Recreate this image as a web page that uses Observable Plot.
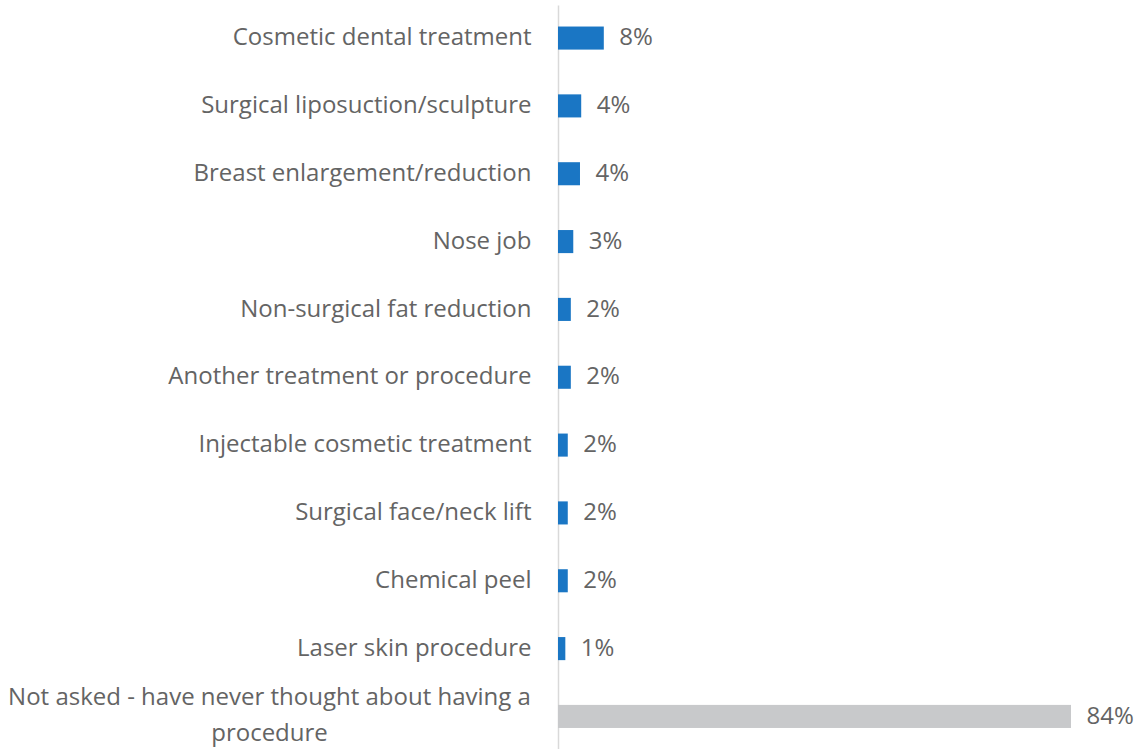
<!DOCTYPE html>
<html>
<head>
<meta charset="utf-8">
<script src="https://cdn.jsdelivr.net/npm/d3@7"></script>
<script src="https://cdn.jsdelivr.net/npm/@observablehq/plot@0.6"></script>
<style>
  html, body { margin: 0; padding: 0; background: #fff; }
</style>
</head>
<body>
<div id="chart"></div>
<script>
const categories = [
  "Cosmetic dental treatment",
  "Surgical liposuction/sculpture",
  "Breast enlargement/reduction",
  "Nose job",
  "Non-surgical fat reduction",
  "Another treatment or procedure",
  "Injectable cosmetic treatment",
  "Surgical face/neck lift",
  "Chemical peel",
  "Laser skin procedure",
  "Not asked - have never thought about having a procedure"
];
const values = [7.5, 3.8, 3.6, 2.5, 2.1, 2.1, 1.6, 1.6, 1.6, 1.2, 84];
const valueLabels = ["8%", "4%", "4%", "3%", "2%", "2%", "2%", "2%", "2%", "1%", "84%"];
const groups = ["asked", "asked", "asked", "asked", "asked", "asked", "asked", "asked", "asked", "asked", "not asked"];

const data = categories.map((c, i) => ({cat: c, value: values[i], label: valueLabels[i], group: groups[i]}));

const textColor = "#646464";
const font = "'Open Sans'";
const fs = 24;

const chart = Plot.plot({
  width: 1139,
  height: 749,
  marginLeft: 558,
  marginRight: 68,
  marginTop: 5.5,
  marginBottom: 0,
  style: {fontFamily: font, background: "#fff"},
  x: {domain: [0, 84], axis: null},
  y: {domain: categories, axis: null, paddingInner: 0.66, paddingOuter: 0.31, round: false},
  color: {domain: ["asked", "not asked"], range: ["#1a76c4", "#c8c9cb"]},
  marks: [
    Plot.ruleX([0], {stroke: "#d9d9d9", strokeWidth: 1.5}),
    Plot.barX(data, {x: "value", y: "cat", fill: "group"}),
    Plot.text(data, {x: "value", y: "cat", text: "label", textAnchor: "start", dx: 15, dy: -1, fontSize: fs, fill: textColor, fontFamily: font}),
    Plot.text(data.filter(d => d.group === "asked"), {x: 0, y: "cat", text: "cat", textAnchor: "end", dx: -27, dy: -1, fontSize: fs, fill: textColor, fontFamily: font}),
    Plot.text(data.filter(d => d.group !== "asked"), {x: 0, y: "cat", text: d => d.cat.replace("having a ", "having a\n"), textAnchor: "middle", dx: -289, dy: -5, lineHeight: 1.5, fontSize: fs, fill: textColor, fontFamily: font})
  ]
});
document.getElementById("chart").appendChild(chart);
</script>
</body>
</html>
